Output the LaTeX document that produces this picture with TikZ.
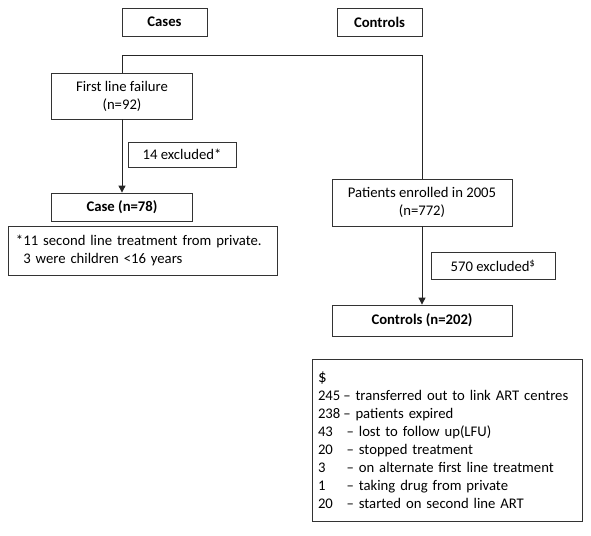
\documentclass[tikz,border=0pt]{standalone}
\usepackage{fontspec}
\setmainfont{Carlito}
\usetikzlibrary{arrows.meta}
\begin{document}
\begin{tikzpicture}[x=1pt,y=-1pt,
  box/.style={draw=black!80, line width=0.8pt, inner sep=0pt, align=center, font=\fontsize{14.7}{18}\selectfont},
  bbox/.style={box, font=\fontsize{14.7}{18}\selectfont\bfseries},
  lbox/.style={draw=black!80, line width=0.8pt, inner ysep=0pt, align=left, font=\fontsize{14.7}{18}\selectfont},
  link/.style={draw=black!85, line width=0.9pt},
  arr/.style={link, -{Triangle[length=7pt,width=7pt]}}]
\useasboundingbox (0,0) rectangle (591,535);
\node[bbox, minimum width=85, minimum height=28] (cases) at (164.5,22) {Cases};
\node[bbox, minimum width=85, minimum height=28] (controls) at (379.5,22) {Controls};
\node[box, minimum width=141, minimum height=46] (flf) at (122,96) {First line failure\\(n=92)};
\node[box, minimum width=108, minimum height=25] (ex14) at (182,154.5) {14 excluded*};
\node[bbox, minimum width=141, minimum height=28] (case) at (122,207) {Case (n=78)};
\node[lbox, inner xsep=8pt, text width=253, minimum height=49] (note) at (142.5,250.5) {*11 second line treatment from private.\\\phantom{*}3 were children <16 years};
\node[box, minimum width=180, minimum height=47] (pat) at (422,202.5) {Patients enrolled in 2005\\(n=772)};
\node[box, minimum width=124, minimum height=27] (ex570) at (493,265.5) {570 excluded\textsuperscript{\$}};
\node[bbox, minimum width=180, minimum height=31] (ctrl) at (422,320.5) {Controls (n=202)};
\node[lbox, inner xsep=6pt, text width=258, minimum height=162] (dol) at (447,440) {{\fontsize{17}{18}\selectfont\$}\\
\makebox[1.72em][l]{245}– transferred out to link ART centres\\
\makebox[1.72em][l]{238}– patients expired\\
\makebox[1.95em][l]{43}– lost to follow up(LFU)\\
\makebox[1.95em][l]{20}– stopped treatment\\
\makebox[1.95em][l]{3}– on alternate first line treatment\\
\makebox[1.95em][l]{1}– taking drug from private\\
\makebox[1.95em][l]{20}– started on second line ART};
\coordinate (tl) at (122,55);
\coordinate (tr) at (422,55);
\draw[link] (flf.north) -- (tl) -- (tr) -- (pat.north);
\draw[arr] (flf.south) -- (case.north);
\draw[arr] (pat.south) -- (ctrl.north);
\end{tikzpicture}
\end{document}
